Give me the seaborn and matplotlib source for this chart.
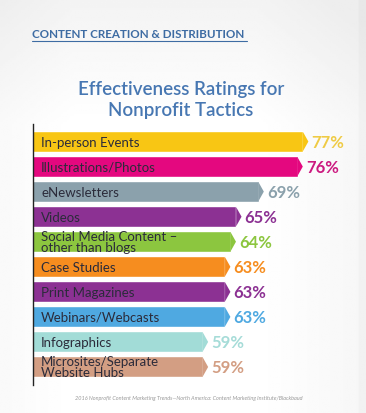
import numpy as np
import pandas as pd
import seaborn as sns
import matplotlib.pyplot as plt

tactics = ['In-person Events', 'Illustrations/Photos', 'eNewsletters', 'Videos',
           'Social Media Content –\nother than blogs', 'Case Studies', 'Print Magazines',
           'Webinars/Webcasts', 'Infographics', 'Microsites/Separate\nWebsite Hubs']
ratings = [77, 76, 69, 65, 64, 63, 63, 63, 59, 59]

bar_colors = ['#F8C614', '#E4087F', '#8BA1AC', '#8C3193', '#8CC63F',
              '#F68D1F', '#8C3193', '#4FA9E1', '#A2DCD7', '#D39E83']
text_colors = ['#EFCB45', '#CC1A80', '#8BA1AC', '#8C3193', '#8CC63F',
               '#F68D1F', '#8C3193', '#4FA9E1', '#A6DCD8', '#D39E83']

df = pd.DataFrame({'tactic': tactics, 'rating': ratings})

sns.set_style("white")
plt.rcParams['font.family'] = ['Lato', 'DejaVu Sans']

fig = plt.figure(figsize=(3.66, 4.14), dpi=100)

# soft grey page background
bg = fig.add_axes([0, 0, 1, 1], zorder=-1)
yy, xx = np.mgrid[0:1:200j, 0:1:200j]
shade = 0.93 + 0.07 * np.clip(1 - 1.6 * np.maximum(np.abs(xx - 0.45) - 0.25, 0) - 2.2 * np.maximum(0.3 - yy, 0), 0, 1)
shade[:, 196:] -= 0.02
bg.imshow(shade, cmap='gray', vmin=0, vmax=1, aspect='auto', extent=[0, 1, 1, 0])
bg.axis('off')

ax = fig.add_axes([33 / 366, 1 - 386 / 414, 333 / 366, 261 / 414])
ax.patch.set_alpha(0)

sns.barplot(data=df, x='rating', y='tactic', hue='tactic', palette=bar_colors,
            legend=False, orient='h', width=0.84, ax=ax, saturation=1)

ax.set_xlim(28.5, 88.3)
ax.set_ylim(9.72, -0.70)

tip = 0.95
for i, v in enumerate(ratings):
    ax.fill([v - 0.01, v + tip, v - 0.01], [i - 0.38, i, i + 0.38],
            color=bar_colors[i], lw=0)
    ax.annotate(f'{v}%', xy=(v + tip, i), xytext=(3, 0), textcoords='offset pixels',
                va='center', ha='left', fontsize=12, fontweight='bold',
                color=text_colors[i])
    ax.annotate(tactics[i], xy=(28.5, i), xytext=(8, 0), textcoords='offset pixels',
                va='center', ha='left', fontsize=9.5, color='#2b2b3a',
                linespacing=0.9)

ax.set_xticks([])
ax.set_yticks([])
ax.set_xlabel('')
ax.set_ylabel('')
sns.despine(ax=ax, top=True, right=True, bottom=True, left=False)
ax.spines['left'].set_color('#222222')
ax.spines['left'].set_linewidth(1)

blue = '#4777B2'
fig.text(32 / 366, 1 - 34 / 414, 'CONTENT CREATION & DISTRIBUTION', fontsize=8.4,
         fontweight='bold', color='#3E6CA3', va='center', ha='left')
fig.add_artist(plt.Line2D([32 / 366, 247 / 366], [1 - 42 / 414, 1 - 42 / 414],
                          color='#3E6CA3', lw=0.8))
fig.text(181 / 366, 1 - 100 / 414, 'Effectiveness Ratings for\nNonprofit Tactics',
         fontsize=13.5, fontweight='semibold', color=blue, ha='center', va='center',
         linespacing=1.22)
fig.text(189 / 366, 1 - 398 / 414,
         '2016 Nonprofit Content Marketing Trends—North America: Content Marketing Institute/Blackbaud',
         fontsize=4, style='italic', color='#9a9a9a', ha='center', va='center')

plt.savefig('out.png', dpi=100)
